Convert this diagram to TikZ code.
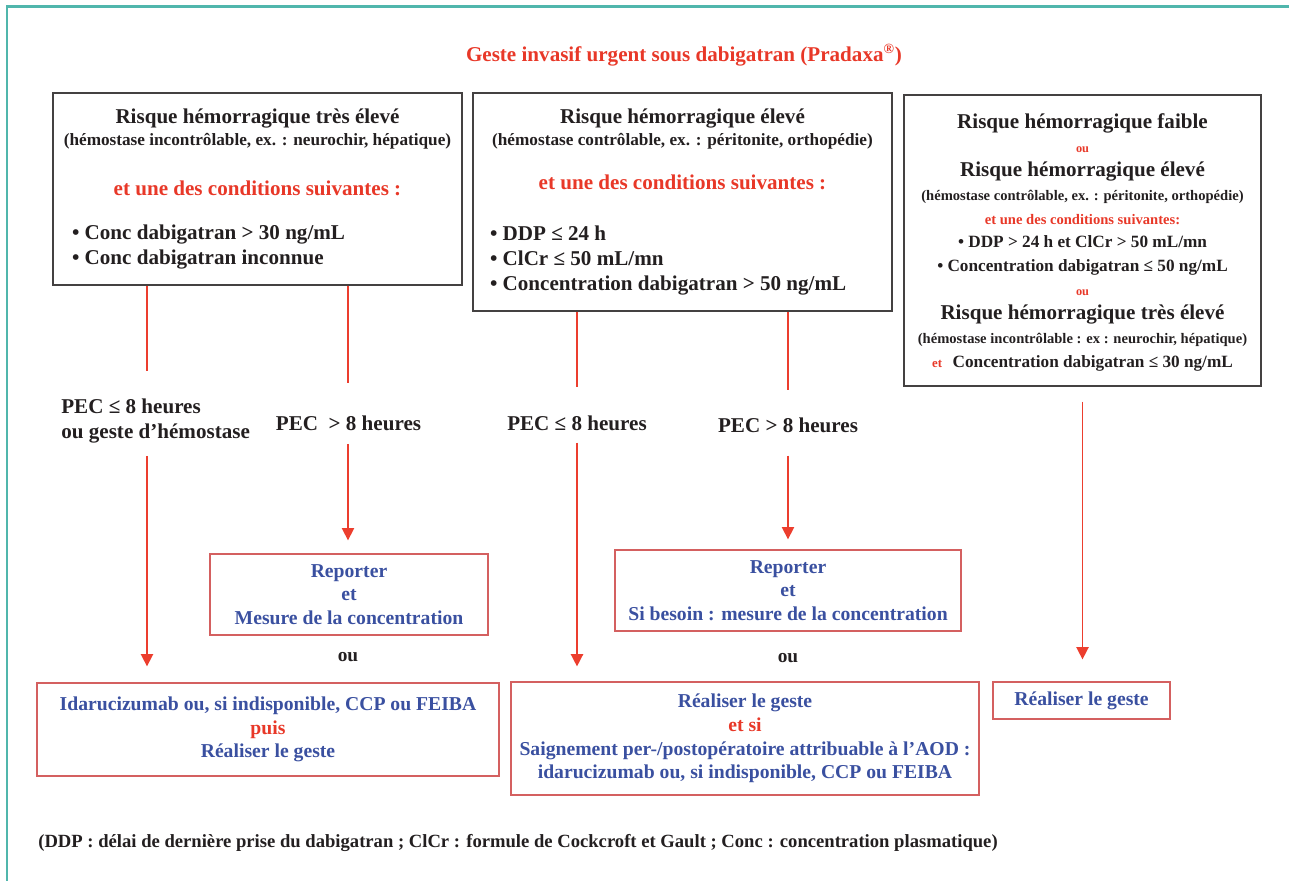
\documentclass[tikz,border=0pt]{standalone}
\usepackage{fontspec}
\setmainfont{Liberation Serif}
\usetikzlibrary{arrows.meta}

\definecolor{frameteal}{RGB}{80,182,172}
\definecolor{alertred}{RGB}{232,56,40}
\definecolor{arrowred}{RGB}{236,62,46}
\definecolor{boxred}{RGB}{212,96,96}
\definecolor{actblue}{RGB}{58,80,160}
\definecolor{inkblack}{RGB}{35,31,32}

\newcommand{\fsz}[1]{\fontsize{#1}{#1}\selectfont}

\tikzset{
  riskbox/.style={draw=inkblack!85, line width=0.75pt, inner xsep=0pt, inner ysep=0pt,
    text=inkblack, font=\bfseries\fontsize{12}{12.5}\selectfont},
  actbox/.style={draw=boxred, line width=0.75pt, align=center, inner sep=0pt,
    text=actblue, font=\bfseries\fontsize{11.2}{13.5}\selectfont},
  peclabel/.style={inner sep=0pt, text=inkblack, font=\bfseries\fontsize{12}{14.7}\selectfont},
  ortext/.style={inner sep=0pt, text=inkblack, font=\bfseries\fontsize{11}{12}\selectfont},
  redline/.style={draw=arrowred, line width=0.85pt},
  redarrow/.style={redline, -{Triangle[length=7pt,width=7pt]}},
}

\begin{document}
\begin{tikzpicture}[x=0.02cm, y=-0.02cm]
\useasboundingbox (0,0) rectangle (1289,881);

% frame
\draw[frameteal, line width=1.7pt] (7,881) -- (7,7) -- (1289,7);

% title
\node[text=alertred, font=\bfseries\fontsize{12}{14}\selectfont] (title) at (684,55)
  {Geste invasif urgent sous dabigatran (Pradaxa\textsuperscript{®})};

% risk boxes
\node[riskbox, text width=8.18cm, align=flush center, minimum height=3.84cm] (riskA) at (257.5,189) {%
  Risque hémorragique très élevé\\
  {\fsz{9.8}(hémostase incontrôlable, ex. : neurochir, hépatique)}\\[15.9pt]
  {\color{alertred}et une des conditions suivantes :}\\[13pt]
  \makebox[\hsize][l]{\hspace*{0.38cm}• Conc dabigatran > 30 ng/mL}\\[1.7pt]
  \makebox[\hsize][l]{\hspace*{0.38cm}• Conc dabigatran inconnue}};

\node[riskbox, text width=8.38cm, align=flush center, minimum height=4.36cm] (riskB) at (682.5,202) {%
  Risque hémorragique élevé\\
  {\fsz{9.8}(hémostase contrôlable, ex. : péritonite, orthopédie)}\\[12.4pt]
  {\color{alertred}et une des conditions suivantes :}\\[16.4pt]
  \makebox[\hsize][l]{\hspace*{0.34cm}• DDP ≤ 24 h}\\[1.7pt]
  \makebox[\hsize][l]{\hspace*{0.34cm}• ClCr ≤ 50 mL/mn}\\[1.7pt]
  \makebox[\hsize][l]{\hspace*{0.34cm}• Concentration dabigatran > 50 ng/mL}};

\node[riskbox, font=\bfseries\fontsize{12}{13.6}\selectfont, align=center,
      minimum width=7.14cm, minimum height=5.82cm, text depth=-1.2pt] (riskC) at (1082.5,240.5) {%
  Risque hémorragique faible\\
  {\fsz{7}\color{alertred}ou}\\
  Risque hémorragique élevé\\
  {\fsz{8.3}(hémostase contrôlable, ex. : péritonite, orthopédie)}\\
  {\fsz{8.3}\color{alertred}et une des conditions suivantes:}\\
  {\fsz{9.8}• DDP > 24 h et ClCr > 50 mL/mn}\\
  {\fsz{9.8}• Concentration dabigatran ≤ 50 ng/mL}\\
  {\fsz{7}\color{alertred}ou}\\
  Risque hémorragique très élevé\\
  {\fsz{8.3}(hémostase incontrôlable : ex : neurochir, hépatique)}\\
  {\fsz{7.3}\color{alertred}et}\ \ {\fsz{9.8}Concentration dabigatran ≤ 30 ng/mL}};

% delays
\node[peclabel, anchor=west, align=left] (pecA1) at (61,421) {PEC ≤ 8 heures\\ou geste d’hémostase};
\node[peclabel] (pecA2) at (348.5,423) {PEC \ > 8 heures};
\node[peclabel] (pecB1) at (577,423) {PEC ≤ 8 heures};
\node[peclabel] (pecB2) at (788,425) {PEC > 8 heures};

% actions
\node[actbox, minimum width=5.56cm, minimum height=1.62cm] (report1) at (349,594.5)
  {Reporter\\et\\Mesure de la concentration};
\node[actbox, minimum width=6.92cm, minimum height=1.62cm] (report2) at (788,590.5)
  {Reporter\\et\\Si besoin : mesure de la concentration};
\node[ortext] (orA) at (348,657) {ou};
\node[ortext] (orB) at (788,658) {ou};
\node[actbox, minimum width=9.24cm, minimum height=1.86cm] (antidote) at (268,729.5)
  {Idarucizumab ou, si indisponible, CCP ou FEIBA\\{\color{alertred}puis}\\Réaliser le geste};
\node[actbox, minimum width=9.36cm, minimum height=2.26cm] (geste2) at (745,738.5)
  {Réaliser le geste\\{\color{alertred}et si}\\Saignement per-/postopératoire attribuable à l’AOD :\\idarucizumab ou, si indisponible, CCP ou FEIBA};
\node[actbox, minimum width=3.54cm, minimum height=0.74cm] (geste3) at (1081.5,700.5) {Réaliser le geste};

% legend
\node[anchor=west, inner sep=0pt, text=inkblack, font=\bfseries\fontsize{10.6}{12}\selectfont] (legend) at (38,843)
  {(DDP : délai de dernière prise du dabigatran ; ClCr : formule de Cockcroft et Gault ; Conc : concentration plasmatique)};

% branches
\coordinate (xA1) at (147,0);
\coordinate (xA2) at (348,0);
\coordinate (xB1) at (577,0);
\coordinate (xB2) at (788,0);

\draw[redline, shorten >=15.3pt] (riskA.south -| xA1) -- (pecA1.north -| xA1);
\draw[redarrow, shorten <=6.8pt, shorten >=9.1pt] (pecA1.south -| xA1) -- (antidote.north -| xA1);
\draw[redline, shorten >=18.1pt] (riskA.south -| xA2) -- (pecA2.north -| xA2);
\draw[redarrow, shorten <=7.4pt, shorten >=7.4pt] (pecA2.south -| xA2) -- (report1.north -| xA2);
\draw[redline, shorten >=15.9pt] (riskB.south -| xB1) -- (pecB1.north -| xB1);
\draw[redarrow, shorten <=6.8pt, shorten >=8.5pt] (pecB1.south -| xB1) -- (geste2.north -| xB1);
\draw[redline, shorten >=15.3pt] (riskB.south -| xB2) -- (pecB2.north -| xB2);
\draw[redarrow, shorten <=13pt, shorten >=5.7pt] (pecB2.south -| xB2) -- (report2.north -| xB2);
\draw[redarrow, shorten <=8.5pt, shorten >=12.5pt] (riskC.south) -- (geste3.north -| riskC.south);

\end{tikzpicture}
\end{document}
